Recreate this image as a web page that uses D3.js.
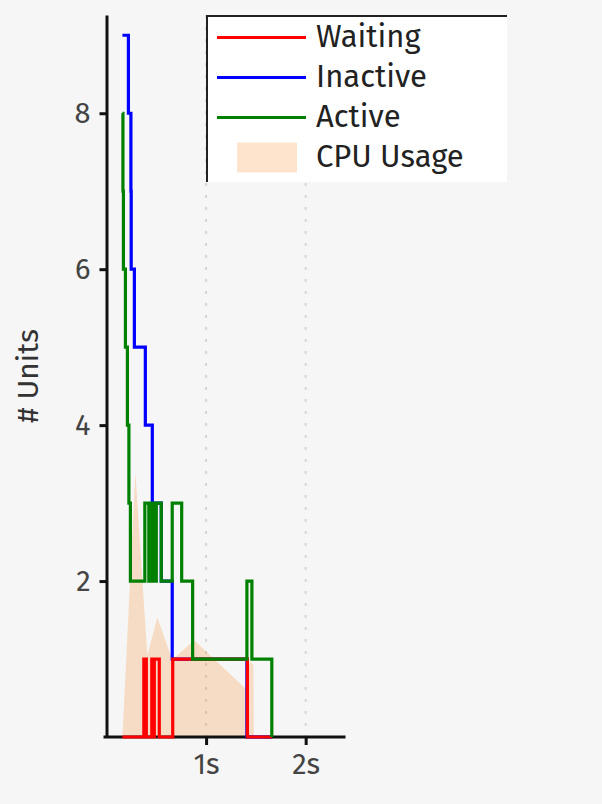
<!DOCTYPE html>
<html>
<head>
<meta charset="utf-8">
<script src="https://cdn.jsdelivr.net/npm/d3@7"></script>
<style>
  html, body { margin: 0; padding: 0; background: #f6f6f6; }
  svg { display: block; }
</style>
</head>
<body>
<svg id="chart" width="602" height="804"></svg>
<script>
/* step series: [seconds, units] */
const waiting = [
  [0.16, 0], [0.375, 1], [0.40, 0], [0.455, 1], [0.47, 0], [0.48, 1], [0.53, 0],
  [0.665, 1], [1.415, 0], [1.66, 0]
]
const inactive = [
  [0.16, 9], [0.22, 8], [0.245, 7], [0.248, 6], [0.28, 5], [0.39, 4], [0.46, 3],
  [0.55, 2], [0.66, 1], [1.41, 0], [1.66, 0]
]
const active = [
  [0.16, 8], [0.165, 7], [0.17, 6], [0.19, 5], [0.21, 4], [0.225, 3], [0.24, 2],
  [0.385, 3], [0.425, 2], [0.435, 3], [0.465, 2], [0.475, 3], [0.49, 2], [0.50, 3],
  [0.55, 2], [0.66, 3], [0.755, 2], [0.865, 1], [1.41, 2], [1.46, 1], [1.66, 0], [1.66, 0]
]
/* cpu usage: [seconds, percent] */
const cpuUsage = [
  [0.16, 0], [0.29, 36.7], [0.41, 11.3], [0.51, 16.6], [0.66, 10.7], [0.88, 13.4],
  [1.39, 6.8], [1.44, 10.5], [1.475, 10], [1.48, 0]
]
const xTicks = [1, 2]
const yTicks = [2, 4, 6, 8]
const legendItems = ["Waiting", "Inactive", "Active", "CPU Usage"]
const seriesColors = ["red", "blue", "green"]
const cpuColor = "rgba(250, 119, 0, 0.2)"

/* layout */
const marginLeft = 106.5
const axisTop = 15
const axisBottom = 737
const fontFamily = "'Fira Sans', 'Noto Sans', sans-serif"

const svg = d3.select("#chart")

const x = d3.scaleLinear([0, 2.4], [marginLeft, marginLeft + 239])
const y = d3.scaleLinear([0, 9.26], [axisBottom, axisTop])
const yCpu = d3.scaleLinear([0, 100], [axisBottom, axisTop])

/* dotted grid lines */
svg.append("g")
.selectAll("line")
.data(xTicks)
.join("line")
.attr("x1", d => x(d))
.attr("x2", d => x(d))
.attr("y1", axisTop)
.attr("y2", axisBottom)
.attr("stroke", "#d6d6d6")
.attr("stroke-width", 2)
.attr("stroke-dasharray", "3,9")

/* cpu usage area */
const area = d3.area()
.x(d => x(d[0]))
.y0(yCpu(0))
.y1(d => yCpu(d[1]))

svg.append("path")
.attr("fill", cpuColor)
.attr("d", area(cpuUsage))

/* axes (drawn under the series) */
svg.append("g")
.attr("transform", `translate(0, ${axisBottom})`)
.call(d3.axisBottom(x).tickValues(xTicks).tickSizeInner(8).tickSizeOuter(0).tickPadding(8).tickFormat(d => d + "s"))
.call(g => g.select(".domain").attr("stroke", "#111").attr("stroke-width", 3).attr("d", `M${marginLeft - 3},0H${x(2.4)}`))
.call(g => g.selectAll(".tick line").attr("stroke", "#111").attr("stroke-width", 3))
.call(g => g.selectAll(".tick text").attr("fill", "#444").attr("font-size", 29).attr("font-family", fontFamily))

svg.append("g")
.attr("transform", `translate(${marginLeft}, 0)`)
.call(d3.axisLeft(y).tickValues(yTicks).tickSizeInner(7).tickSizeOuter(0).tickPadding(9))
.call(g => g.select(".domain").attr("stroke", "#111").attr("stroke-width", 3))
.call(g => g.selectAll(".tick line").attr("stroke", "#111").attr("stroke-width", 3))
.call(g => g.selectAll(".tick text").attr("fill", "#444").attr("font-size", 29).attr("font-family", fontFamily))

svg.append("text")
.attr("transform", `translate(38, ${(axisTop + axisBottom) / 2}) rotate(-90)`)
.attr("text-anchor", "middle")
.attr("fill", "#333")
.attr("font-size", 30)
.attr("font-family", fontFamily)
.text("# Units")

/* step lines: inactive first, then waiting, then active on top */
const line = d3.line()
.curve(d3.curveStepAfter)
.x(d => x(d[0]))
.y(d => y(d[1]))

const drawOrder = [1, 0, 2]
const allSeries = [waiting, inactive, active]

svg.append("g")
.selectAll("path")
.data(drawOrder)
.join("path")
.attr("fill", "none")
.attr("stroke", i => seriesColors[i])
.attr("stroke-width", 3.2)
.attr("d", i => line(allSeries[i]))

/* legend */
const legend = svg.append("g").attr("transform", "translate(206, 15)")

legend.append("rect")
.attr("width", 301)
.attr("height", 167)
.attr("fill", "white")

legend.append("path")
.attr("fill", "none")
.attr("stroke", "#222")
.attr("stroke-width", 2)
.attr("d", "M1,167V1H301")

const rows = legend.selectAll("g.row")
.data(legendItems)
.join("g")
.attr("class", "row")
.attr("transform", (d, i) => `translate(0, ${22.5 + 40 * i})`)

rows.filter((d, i) => i < 3)
.append("line")
.attr("x1", 11)
.attr("x2", 100)
.attr("stroke", (d, i) => seriesColors[i])
.attr("stroke-width", 3)

rows.filter((d, i) => i == 3)
.append("rect")
.attr("x", 31)
.attr("y", -15)
.attr("width", 60)
.attr("height", 30)
.attr("fill", cpuColor)

rows.append("text")
.attr("x", 110)
.attr("y", 9.5)
.attr("fill", "#222")
.attr("font-size", 31)
.attr("font-family", fontFamily)
.text(d => d)
</script>
</body>
</html>
